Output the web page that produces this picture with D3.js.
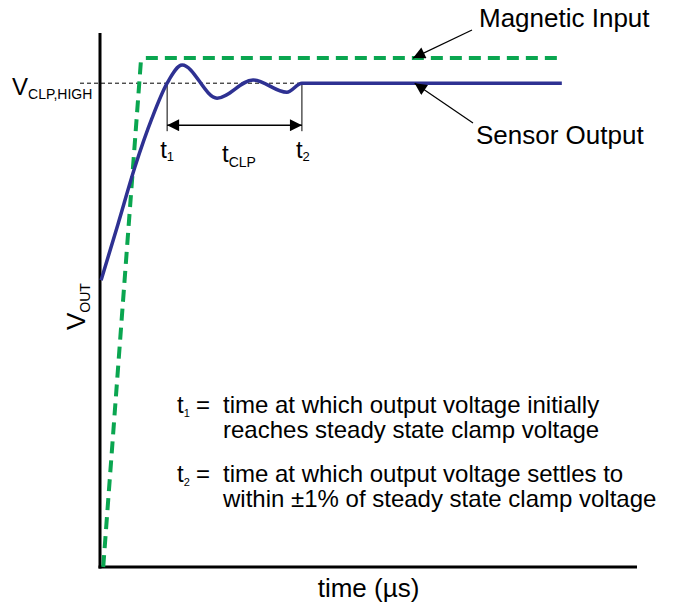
<!DOCTYPE html>
<html>
<head>
<meta charset="utf-8">
<script src="https://cdn.jsdelivr.net/npm/d3@7"></script>
<style>
  body { margin: 0; background: #fff; }
  text { font-family: "Liberation Sans", Arial, sans-serif; fill: #000; }
</style>
</head>
<body>
<svg id="chart" width="673" height="605"></svg>
<script>
////////////////
// Chart data //
////////////////
const magneticTime = [0.6, 7.6, 8.3, 86];
const magneticValue = [0, 94.5, 95.3, 95.3];

const sensorTime = [0.2, 3.35, 6.5, 9.7, 12.5, 15.3, 21.8, 28.5, 34.8, 37.6, 86];
const sensorValue = [53.7, 64.2, 74.9, 84.1, 90.6, 94.0, 87.8, 91.2, 88.9, 90.6, 90.6];

const clampValue = 90.6;
const t1Time = 12.5, t2Time = 37.6;

const definitions = [
  { sub: "1", lines: ["time at which output voltage initially", "reaches steady state clamp voltage"] },
  { sub: "2", lines: ["time at which output voltage settles to", "within \u00b11% of steady state clamp voltage"] },
];

//////////////////////////
// Chart specifications //
//////////////////////////
const margin = { top: 33, right: 36, bottom: 38, left: 100 };
const width = 673, height = 605;
const blue = "#2e3192", green = "#0aa650";

const svg = d3.select("#chart");

const x = d3.scaleLinear().domain([0, 100]).range([margin.left, width - margin.right]);
const y = d3.scaleLinear().domain([0, 100]).range([height - margin.bottom, margin.top]);

const defs = svg.append("defs");
defs.append("marker")
  .attr("id", "head")
  .attr("viewBox", "0 0 10 10")
  .attr("refX", 10).attr("refY", 5)
  .attr("markerWidth", 17).attr("markerHeight", 12)
  .attr("markerUnits", "userSpaceOnUse")
  .attr("orient", "auto-start-reverse")
  .append("path").attr("d", "M0,0L10,5L0,10Z").attr("fill", "#000");

// axes (plain lines, no ticks)
svg.append("line")
  .attr("x1", x(0)).attr("x2", x(0))
  .attr("y1", y(100)).attr("y2", y(0) + 1.5)
  .attr("stroke", "#000").attr("stroke-width", 3);
svg.append("line")
  .attr("x1", x(0) - 1.5).attr("x2", x(100))
  .attr("y1", y(0)).attr("y2", y(0))
  .attr("stroke", "#000").attr("stroke-width", 3);

// clamp reference line
svg.append("line")
  .attr("x1", 80).attr("x2", x(t2Time))
  .attr("y1", y(clampValue)).attr("y2", y(clampValue))
  .attr("stroke", "#000").attr("stroke-width", 1)
  .attr("stroke-dasharray", "4,3");

// t1 / t2 markers
[t1Time, t2Time].forEach((t) => {
  svg.append("line")
    .attr("x1", x(t)).attr("x2", x(t))
    .attr("y1", y(clampValue)).attr("y2", y(clampValue) + 48)
    .attr("stroke", "#000").attr("stroke-width", 1);
});
svg.append("line")
  .attr("x1", x(t1Time)).attr("x2", x(t2Time))
  .attr("y1", y(clampValue) + 42).attr("y2", y(clampValue) + 42)
  .attr("stroke", "#000").attr("stroke-width", 1.5)
  .attr("marker-start", "url(#head)")
  .attr("marker-end", "url(#head)");

// series
const magData = magneticTime.map((t, i) => [t, magneticValue[i]]);
const senData = sensorTime.map((t, i) => [t, sensorValue[i]]);

svg.append("path")
  .datum(magData)
  .attr("d", d3.line().x((d) => x(d[0])).y((d) => y(d[1])))
  .attr("fill", "none")
  .attr("stroke", green).attr("stroke-width", 4)
  .attr("stroke-dasharray", "12,7");

svg.append("path")
  .datum(senData)
  .attr("d", d3.line().curve(d3.curveMonotoneX).x((d) => x(d[0])).y((d) => y(d[1])))
  .attr("fill", "none")
  .attr("stroke", blue).attr("stroke-width", 3.5);

// callouts
function callout(x1, y1, x2, y2) {
  svg.append("line")
    .attr("x1", x1).attr("y1", y1).attr("x2", x2).attr("y2", y2)
    .attr("stroke", "#000").attr("stroke-width", 1.2)
    .attr("marker-end", "url(#head)");
}
callout(472, 30, x(58.3), y(95.3));
callout(473, 123, x(58.6), y(clampValue));

svg.append("text").attr("x", 479).attr("y", 27).attr("font-size", 26).text("Magnetic Input");
svg.append("text").attr("x", 476).attr("y", 144).attr("font-size", 26).text("Sensor Output");

// subscript label helper
function subLabel(g, main, sub, size, subSize, dy) {
  g.append("tspan").attr("font-size", size).text(main);
  g.append("tspan").attr("font-size", subSize).attr("dy", dy).text(sub);
}

subLabel(svg.append("text").attr("x", 12).attr("y", 95), "V", "CLP,HIGH", 24, 14, 4);
subLabel(svg.append("text").attr("x", x(t1Time) - 7).attr("y", 158), "t", "1", 24, 13, 3);
subLabel(svg.append("text").attr("x", 222).attr("y", 162), "t", "CLP", 24, 14, 5);
subLabel(svg.append("text").attr("x", x(t2Time) - 6).attr("y", 158), "t", "2", 24, 13, 3);

subLabel(
  svg.append("text").attr("transform", "translate(85,330) rotate(-90)"),
  "V", "OUT", 26, 14, 5
);

svg.append("text")
  .attr("x", (x(0) + x(100)) / 2).attr("y", 597)
  .attr("text-anchor", "middle").attr("font-size", 26)
  .text("time (\u00b5s)");

// definitions block
definitions.forEach((d, i) => {
  const base = 413 + i * 69;
  subLabel(svg.append("text").attr("x", 177).attr("y", base), "t", d.sub, 24, 11, 4);
  svg.append("text").attr("x", 196).attr("y", base).attr("font-size", 24).text("=");
  d.lines.forEach((line, j) => {
    svg.append("text")
      .attr("x", 223)
      .attr("y", base + j * 25)
      .attr("font-size", 24)
      .text(line);
  });
});
</script>
</body>
</html>
